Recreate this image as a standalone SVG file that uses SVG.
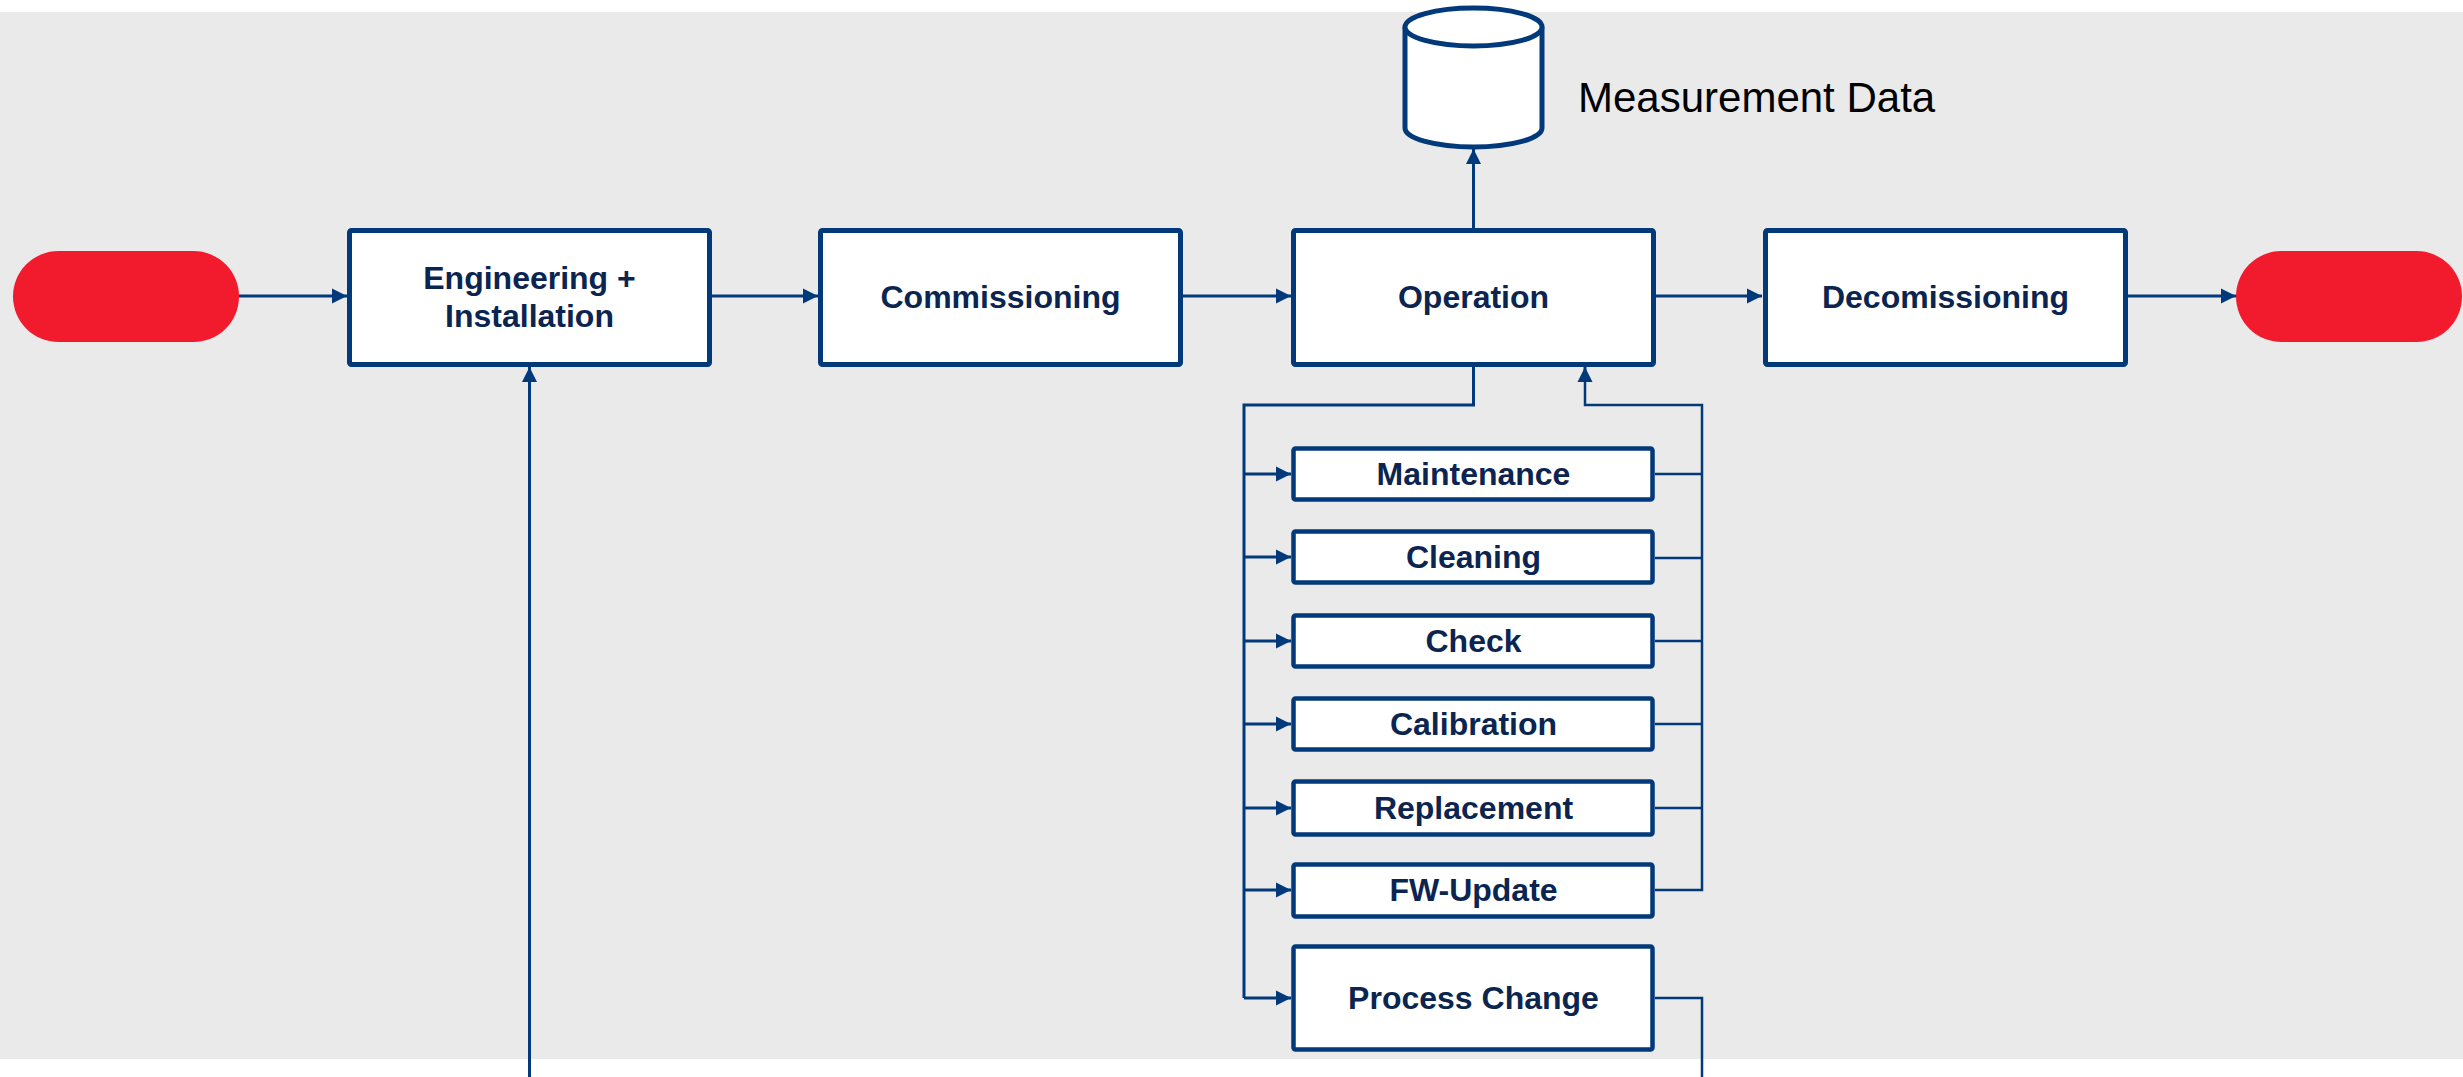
<svg xmlns="http://www.w3.org/2000/svg" width="2463" height="1077" viewBox="0 0 2463 1077">
<style>
.box{fill:#fff;stroke:#02397A;stroke-width:5;}
.sub{fill:#fff;stroke:#02397A;stroke-width:4.5;}
.lbl{font-family:"Liberation Sans",Arial,sans-serif;font-weight:bold;font-size:32px;fill:#0B2550;text-anchor:middle;}
.con{fill:none;stroke:#02397A;stroke-width:3;}
.thin{fill:none;stroke:#02397A;stroke-width:2.5;}
.term{fill:#F21B2D;}
</style>
<defs>
<marker id="ah" markerUnits="userSpaceOnUse" markerWidth="16" markerHeight="16" viewBox="0 0 16 16" refX="15" refY="8" orient="auto">
<path d="M0,0.5 L15,8 L0,15.5 z" fill="#02397A"/>
</marker>
</defs>
<rect x="0" y="12" width="2463" height="1047" fill="#EAEAEA"/>
<g id="connectors">
<line class="con" x1="239" y1="296" x2="347" y2="296" marker-end="url(#ah)"/>
<line class="con" x1="712" y1="296" x2="818" y2="296" marker-end="url(#ah)"/>
<line class="con" x1="1183" y1="296" x2="1291" y2="296" marker-end="url(#ah)"/>
<line class="con" x1="1655" y1="296" x2="1762" y2="296" marker-end="url(#ah)"/>
<line class="con" x1="2128" y1="296" x2="2236" y2="296" marker-end="url(#ah)"/>
<line class="con" x1="1473.5" y1="228" x2="1473.5" y2="149" marker-end="url(#ah)"/>
<line class="con" x1="529.5" y1="1077" x2="529.5" y2="367" marker-end="url(#ah)"/>
<polyline class="con" points="1473.5,367 1473.5,405 1244,405 1244,998"/>
<line class="con" x1="1244" y1="474" x2="1291" y2="474" marker-end="url(#ah)"/>
<line class="con" x1="1244" y1="557" x2="1291" y2="557" marker-end="url(#ah)"/>
<line class="con" x1="1244" y1="641" x2="1291" y2="641" marker-end="url(#ah)"/>
<line class="con" x1="1244" y1="724" x2="1291" y2="724" marker-end="url(#ah)"/>
<line class="con" x1="1244" y1="808" x2="1291" y2="808" marker-end="url(#ah)"/>
<line class="con" x1="1244" y1="890" x2="1291" y2="890" marker-end="url(#ah)"/>
<line class="con" x1="1244" y1="998" x2="1291" y2="998" marker-end="url(#ah)"/>
<polyline class="thin" points="1655,890 1702,890 1702,405 1585,405 1585,380"/>
<line class="con" x1="1585" y1="382" x2="1585" y2="367" marker-end="url(#ah)"/>
<line class="thin" x1="1655" y1="474" x2="1702" y2="474"/>
<line class="thin" x1="1655" y1="558" x2="1702" y2="558"/>
<line class="thin" x1="1655" y1="641" x2="1702" y2="641"/>
<line class="thin" x1="1655" y1="724" x2="1702" y2="724"/>
<line class="thin" x1="1655" y1="808" x2="1702" y2="808"/>
<polyline class="thin" points="1655,998 1702,998 1702,1077"/>
</g>
<g id="start"><rect class="term" x="13" y="251" width="226" height="91" rx="45.5"/></g>
<g id="end"><rect class="term" x="2236" y="251" width="226" height="91" rx="45.5"/></g>
<g id="engineering">
<rect class="box" x="349.5" y="230.5" width="360" height="134" rx="2"/>
<text class="lbl" x="529.5" y="289">Engineering +</text>
<text class="lbl" x="529.5" y="327">Installation</text>
</g>
<g id="commissioning">
<rect class="box" x="820.5" y="230.5" width="360" height="134" rx="2"/>
<text class="lbl" x="1000.5" y="308">Commissioning</text>
</g>
<g id="operation">
<rect class="box" x="1293.5" y="230.5" width="360" height="134" rx="2"/>
<text class="lbl" x="1473.5" y="308">Operation</text>
</g>
<g id="decomissioning">
<rect class="box" x="1765.5" y="230.5" width="360" height="134" rx="2"/>
<text class="lbl" x="1945.5" y="308">Decomissioning</text>
</g>
<g id="measurement-data">
<path class="box" d="M1405,27 A68.5,19 0 0 1 1542,27 V128 A68.5,19 0 0 1 1405,128 Z"/>
<path class="box" d="M1405,27 A68.5,19 0 0 0 1542,27"/>
<text x="1578" y="112" style="font-family:'Liberation Sans',Arial,sans-serif;font-size:42px;fill:#000;">Measurement Data</text>
</g>
<g id="maintenance">
<rect class="sub" x="1293.5" y="448.5" width="359" height="51" rx="2"/>
<text class="lbl" x="1473.5" y="485">Maintenance</text>
</g>
<g id="cleaning">
<rect class="sub" x="1293.5" y="531.5" width="359" height="51" rx="2"/>
<text class="lbl" x="1473.5" y="568">Cleaning</text>
</g>
<g id="check">
<rect class="sub" x="1293.5" y="615.5" width="359" height="51" rx="2"/>
<text class="lbl" x="1473.5" y="652">Check</text>
</g>
<g id="calibration">
<rect class="sub" x="1293.5" y="698.5" width="359" height="51" rx="2"/>
<text class="lbl" x="1473.5" y="735">Calibration</text>
</g>
<g id="replacement">
<rect class="sub" x="1293.5" y="781.5" width="359" height="53" rx="2"/>
<text class="lbl" x="1473.5" y="819">Replacement</text>
</g>
<g id="fw-update">
<rect class="sub" x="1293.5" y="864.5" width="359" height="52" rx="2"/>
<text class="lbl" x="1473.5" y="901">FW-Update</text>
</g>
<g id="process-change">
<rect class="sub" x="1293.5" y="946.5" width="359" height="103" rx="2"/>
<text class="lbl" x="1473.5" y="1009">Process Change</text>
</g>
</svg>
